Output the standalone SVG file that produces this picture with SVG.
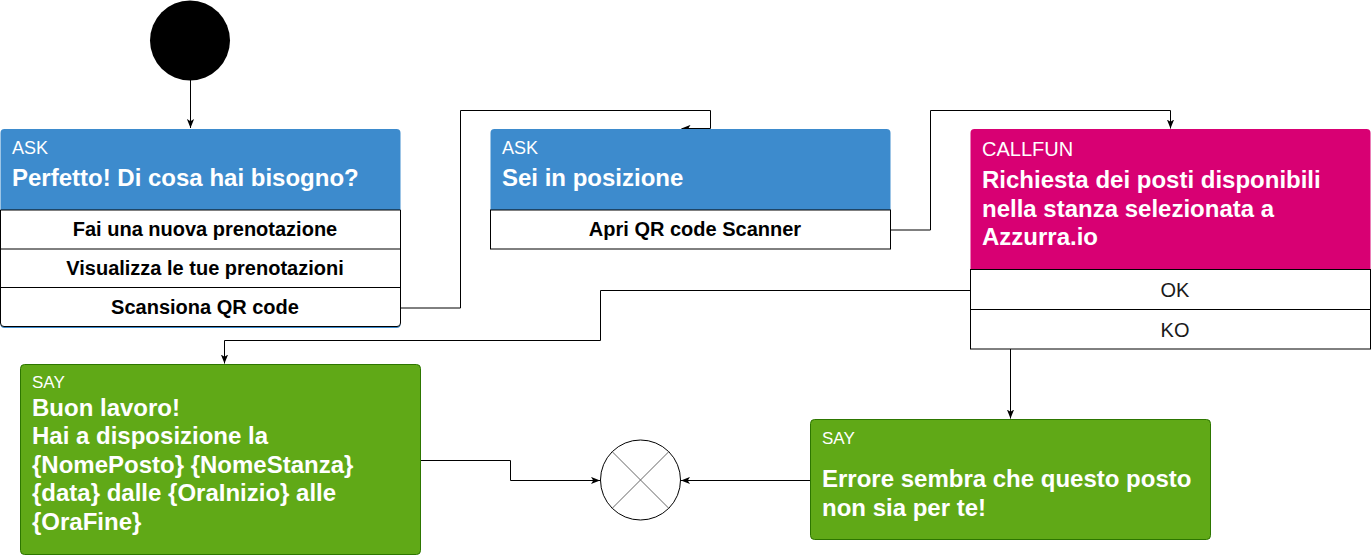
<svg xmlns="http://www.w3.org/2000/svg" width="1371" height="555" viewBox="0 0 1371 555">
  <style>
    text { font-family: "Liberation Sans", Arial, Helvetica, sans-serif; }
    .lbl { font-size: 18px; fill: #ffffff; }
    .ttl { font-size: 24px; font-weight: bold; fill: #ffffff; }
    .row { font-size: 20px; font-weight: bold; fill: #000000; text-anchor: middle; }
    .opt { font-size: 20px; fill: #1a1a1a; text-anchor: middle; }
    .rowbox { fill: #ffffff; stroke: #000000; stroke-width: 1; }
    .conn { fill: none; stroke: #000000; stroke-width: 1; }
    .say { fill: #60A917; stroke: #2D7600; stroke-width: 1; }
  </style>
  <defs>
    <marker id="arr" viewBox="0 0 10 8" refX="10" refY="4" markerWidth="9" markerHeight="8" orient="auto" markerUnits="userSpaceOnUse">
      <path d="M0,0 L10,4 L0,8 L2.5,4 Z" fill="#000000"/>
    </marker>
  </defs>
  <rect x="0" y="0" width="1371" height="555" fill="#ffffff"/>

  <g id="connectors">
    <path class="conn" d="M190.5,80 V128" marker-end="url(#arr)"/>
    <path class="conn" d="M400.5,308 H460.5 V110.5 H710.5 V128.5 H681.5" marker-end="url(#arr)"/>
    <path class="conn" d="M890.5,230 H930.5 V110.5 H1170.5 V128.5" marker-end="url(#arr)"/>
    <path class="conn" d="M970.5,290.5 H600.5 V340.5 H224.5 V363.5" marker-end="url(#arr)"/>
    <path class="conn" d="M1010.5,349 V418.5" marker-end="url(#arr)"/>
    <path class="conn" d="M420.5,460.5 H510.5 V480.5 H600" marker-end="url(#arr)"/>
    <path class="conn" d="M810.5,480.5 H681" marker-end="url(#arr)"/>
  </g>

  <g id="start">
    <circle cx="190" cy="40.5" r="40" fill="#000000"/>
  </g>

  <g id="ask1">
    <rect x="0.5" y="129" width="400" height="199" rx="4" fill="#3D8BCD"/>
    <path class="rowbox" d="M0.5,210 H400.5 V323 Q400.5,326.5 397,326.5 H4 Q0.5,326.5 0.5,323 Z"/>
    <line x1="0.5" y1="249" x2="400.5" y2="249" stroke="#000000"/>
    <line x1="0.5" y1="287.5" x2="400.5" y2="287.5" stroke="#000000"/>
    <text class="lbl" x="12" y="154">ASK</text>
    <text class="ttl" x="12" y="186">Perfetto! Di cosa hai bisogno?</text>
    <text class="row" x="205" y="235.5">Fai una nuova prenotazione</text>
    <text class="row" x="205" y="274.5">Visualizza le tue prenotazioni</text>
    <text class="row" x="205" y="313.5">Scansiona QR code</text>
  </g>

  <g id="ask2">
    <path d="M490.5,210 V133 Q490.5,129 494.5,129 H886.5 Q890.5,129 890.5,133 V210 Z" fill="#3D8BCD"/>
    <rect class="rowbox" x="490.5" y="210" width="400" height="39"/>
    <text class="lbl" x="502" y="154">ASK</text>
    <text class="ttl" x="502" y="186">Sei in posizione</text>
    <text class="row" x="695" y="235.5">Apri QR code Scanner</text>
  </g>

  <g id="callfun">
    <path d="M970.5,269.5 V133 Q970.5,129 974.5,129 H1366.5 Q1370.5,129 1370.5,133 V269.5 Z" fill="#D80073"/>
    <rect class="rowbox" x="970.5" y="269.5" width="400" height="40"/>
    <rect class="rowbox" x="970.5" y="309.5" width="400" height="39.5"/>
    <text x="982" y="156" style="font-size:20px;fill:#ffffff">CALLFUN</text>
    <text class="ttl" x="982" y="188">Richiesta dei posti disponibili</text>
    <text class="ttl" x="982" y="217">nella stanza selezionata a</text>
    <text class="ttl" x="982" y="245">Azzurra.io</text>
    <text class="opt" x="1175" y="297">OK</text>
    <text class="opt" x="1175" y="336.5">KO</text>
  </g>

  <g id="say1">
    <rect class="say" x="20.5" y="364.5" width="400" height="190" rx="4"/>
    <text class="lbl" x="32" y="388" style="font-size:17px">SAY</text>
    <text class="ttl" x="32" y="415.5">Buon lavoro!</text>
    <text class="ttl" x="32" y="444">Hai a disposizione la</text>
    <text class="ttl" x="32" y="472.5">{NomePosto} {NomeStanza}</text>
    <text class="ttl" x="32" y="501">{data} dalle {OraInizio} alle</text>
    <text class="ttl" x="32" y="529.5">{OraFine}</text>
  </g>

  <g id="say2">
    <rect class="say" x="810.5" y="419.5" width="400" height="120" rx="4"/>
    <text class="lbl" x="822" y="444" style="font-size:17px">SAY</text>
    <text class="ttl" x="822" y="487">Errore sembra che questo posto</text>
    <text class="ttl" x="822" y="515.5">non sia per te!</text>
  </g>

  <g id="end">
    <circle cx="640.5" cy="480" r="40" fill="#ffffff" stroke="#000000" stroke-width="1"/>
    <line x1="612.2" y1="451.7" x2="668.8" y2="508.3" stroke="#666666" stroke-width="1"/>
    <line x1="668.8" y1="451.7" x2="612.2" y2="508.3" stroke="#666666" stroke-width="1"/>
  </g>
</svg>
